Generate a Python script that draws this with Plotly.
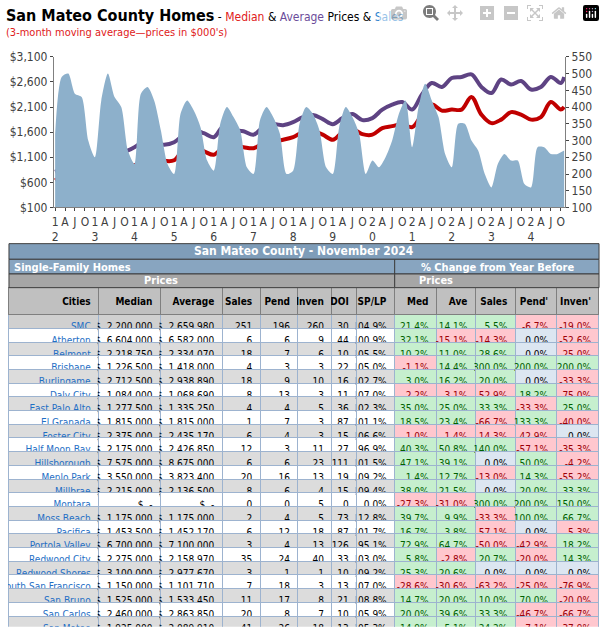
import plotly.graph_objects as go

# chart data (quarterly prices in $000s, sales every two months)
years = list(range(2012, 2025))
price_months = ["01", "04", "07", "10"]
avg_price = [810, 900, 1000, 1000, 970, 1200, 1250, 1220, 1300, 1420, 1380, 1350,
             1400, 1550, 1640, 1580, 1500, 1720, 1640, 1620, 1550, 1700, 1760, 1740,
             1800, 1900, 1940, 1860, 1760, 1880, 1960, 1840, 1880, 2050, 2150, 2200,
             2050, 2350, 2580, 2500, 2680, 2700, 2750, 2500, 2380, 2650, 2550, 2620,
             2450, 2500, 2700, 2580, 2700]
med_price = [640, 750, 820, 810, 760, 920, 980, 950, 940, 1050, 1100, 1030,
             1040, 1260, 1280, 1220, 1150, 1300, 1330, 1300, 1280, 1380, 1420, 1450,
             1500, 1600, 1620, 1550, 1450, 1600, 1660, 1560, 1550, 1680, 1720, 1760,
             1700, 1950, 2150, 2030, 2050, 2050, 2300, 1950, 1780, 1850, 2000, 1950,
             1850, 1900, 2200, 2050, 2100]
sales_months = ["01", "03", "05", "07", "09", "11"]
sales = [320, 490, 500, 440, 430, 300, 250, 420, 500, 430, 400, 270,
         230, 440, 460, 420, 330, 230, 200, 380, 420, 390, 340, 240,
         210, 350, 400, 370, 330, 220, 200, 360, 400, 370, 320, 200,
         210, 350, 400, 380, 330, 220, 200, 340, 400, 370, 320, 200,
         240, 220, 250, 300, 380, 420, 280, 400, 470, 420, 370, 260,
         220, 350, 350, 300, 270, 200, 160, 230, 260, 240, 240, 170,
         160, 280, 280, 260, 260, 270]

price_dates = [f"{y}-{m}-01" for y in years for m in price_months] + ["2024-11-01"]
sales_dates = [f"{y}-{m}-01" for y in years for m in sales_months][:len(sales)]

tick_vals = [f"{y}-{m}-01" for y in years for m in price_months]
tick_text = []
for y in years:
    yy = str(y)[2:]
    tick_text += [f"{yy[0]}<br>{yy[1]}", "A", "J", "O"]

left_ticks = list(range(100, 3101, 500))
left_text = ["$" + f"{v:,}" for v in left_ticks]

# table data
cities = ["SMC", "Atherton", "Belmont", "Brisbane", "Burlingame", "Daly City", "East Palo Alto",
          "El Granada", "Foster City", "Half Moon Bay", "Hillsborough", "Menlo Park", "Millbrae",
          "Montara", "Moss Beach", "Pacifica", "Portola Valley", "Redwood City", "Redwood Shores",
          "outh San Francisco", "San Bruno", "San Carlos", "San Mateo", "Woodside"]
median = ["2,200,000", "6,604,000", "2,218,750", "1,226,500", "2,712,500", "1,084,000", "1,277,500",
          "1,815,000", "2,375,000", "2,175,000", "7,575,000", "3,550,000", "2,215,000", "-",
          "1,175,000", "1,453,500", "6,700,000", "2,275,000", "3,100,000", "1,150,000", "1,525,000",
          "2,460,000", "1,925,000", "7,800,000"]
average = ["2,659,980", "6,582,000", "2,334,070", "1,418,000", "2,938,890", "1,068,690", "1,335,250",
           "1,815,000", "2,435,170", "2,426,850", "8,675,000", "3,823,400", "2,136,500", "-",
           "1,175,000", "1,452,170", "7,100,000", "2,158,970", "2,977,670", "1,101,710", "1,533,450",
           "2,863,850", "2,089,910", "8,566,670"]
n_sales = [251, 6, 18, 4, 18, 8, 4, 1, 6, 12, 6, 20, 8, 0, 2, 6, 3, 35, 3, 7, 11, 20, 41, 3]
pend = [196, 6, 7, 3, 9, 13, 4, 7, 4, 3, 6, 16, 6, 0, 4, 12, 4, 24, 1, 18, 17, 8, 26, 7]
inven = [260, 9, 6, 3, 10, 3, 5, 3, 3, 11, 23, 13, 4, 5, 5, 18, 13, 40, 1, 3, 8, 7, 18, 23]
doi = [30, 44, 10, 22, 16, 11, 36, 87, 15, 27, 111, 19, 15, 0, 73, 87, 126, 33, 10, 13, 21, 10, 13, 222]
sp_lp = ["104.9%", "100.9%", "105.5%", "105.0%", "102.7%", "107.0%", "102.3%", "101.1%", "106.6%",
         "96.9%", "101.5%", "109.2%", "109.4%", "0.0%", "112.8%", "101.7%", "95.1%", "103.0%",
         "109.2%", "107.0%", "108.8%", "105.9%", "105.3%", "96.2%"]
chg_med = ["21.4%", "32.1%", "10.2%", "-1.1%", "3.0%", "-2.2%", "35.0%", "18.5%", "-1.0%", "40.3%",
           "47.1%", "1.4%", "38.0%", "-27.3%", "39.7%", "16.7%", "72.9%", "5.8%", "25.3%", "-28.6%",
           "14.7%", "20.0%", "14.9%", "235.5%"]
chg_ave = ["14.1%", "-15.1%", "11.0%", "14.4%", "16.2%", "-3.1%", "25.0%", "23.4%", "-1.4%", "50.8%",
           "39.1%", "12.7%", "21.5%", "-31.0%", "9.9%", "3.8%", "64.7%", "-2.8%", "20.6%", "-30.6%",
           "20.0%", "39.6%", "5.1%", "268.5%"]
chg_sales = ["5.5%", "-14.3%", "28.6%", "300.0%", "20.0%", "-52.9%", "33.3%", "-66.7%", "-14.3%",
             "140.0%", "0.0%", "-13.0%", "0.0%", "300.0%", "-33.3%", "-57.1%", "-50.0%", "20.7%",
             "0.0%", "-63.2%", "10.0%", "33.3%", "24.2%", "200.0%"]
chg_pend = ["-6.7%", "0.0%", "0.0%", "200.0%", "0.0%", "18.2%", "-33.3%", "133.3%", "-42.9%", "-57.1%",
            "50.0%", "14.3%", "20.0%", "200.0%", "100.0%", "0.0%", "-42.9%", "-20.0%", "0.0%",
            "-25.0%", "70.0%", "-46.7%", "-7.1%", "-12.5%"]
chg_inven = ["-19.0%", "-52.6%", "-25.0%", "200.0%", "-33.3%", "-75.0%", "25.0%", "-40.0%", "0.0%",
             "-35.3%", "-4.2%", "-55.2%", "33.3%", "150.0%", "66.7%", "-5.3%", "18.2%", "14.3%",
             "0.0%", "-76.9%", "-20.0%", "-66.7%", "-37.9%", "-28.1%"]

W, H = 605, 634
FONT = "Liberation Sans Narrow, DejaVu Sans Condensed, Arial"
fig = go.Figure()

fig.add_trace(go.Scatter(x=sales_dates, y=sales, yaxis="y2", fill="tozeroy", mode="none",
                         fillcolor="#8DB0CB", line_shape="spline", line_smoothing=0.7, name="Sales"))
fig.add_trace(go.Scatter(x=price_dates, y=avg_price, mode="lines", line=dict(color="#5E4383", width=4),
                         line_shape="spline", name="Average"))
fig.add_trace(go.Scatter(x=price_dates, y=med_price, mode="lines", line=dict(color="#C00000", width=4),
                         line_shape="spline", name="Median"))

# table
def chg_fill(v):
    if v.startswith("-"):
        return "#FFC7CE"
    if v == "0.0%":
        return "#DCE6F1"
    return "#C6EFCE"

def chg_font(v):
    if v.startswith("-"):
        return "#9C0006"
    if v == "0.0%":
        return "#000000"
    return "#006100"

NB = "\u00a0"
n = len(cities)
row_fill = ["#D0D0D0" if i == 0 else ("#DCDCDC" if i % 2 == 0 else "#FFFFFF") for i in range(n)]
left_cols = [[c.replace(" ", NB) for c in cities],
             ["$" + NB * 2 + v for v in median], ["$" + NB * 2 + v for v in average],
             n_sales, pend, inven, doi, sp_lp]
right_cols = [chg_med, chg_ave, chg_sales, chg_pend, chg_inven]
edges = [7, 97, 159, 221, 259, 297, 331, 356, 394, 436, 475, 515, 556, 599]
widths = [edges[i + 1] - edges[i] for i in range(len(edges) - 1)]

fills = [row_fill] * len(left_cols) + [[chg_fill(v) for v in c] for c in right_cols]
fcolors = [["#1F6FC5"] * n] + [["#000000"] * n] * (len(left_cols) - 1) + \
          [[chg_font(v) for v in c] for c in right_cols]

fig.add_trace(go.Table(
    domain=dict(x=[7 / W, 599 / W], y=[0, 1 - 287 / H]),
    columnwidth=widths,
    header=dict(values=["<b>Cities</b>", "<b>Median</b>", "<b>Average</b>", "<b>Sales</b>", "<b>Pend</b>",
                        "<b>Inven</b>", "<b>DOI</b>", "<b>SP/LP</b>", "<b>Med</b>", "<b>Ave</b>",
                        "<b>Sales</b>", "<b>Pend'</b>", "<b>Inven'</b>"],
                fill_color="#C0C0C0", align="right", height=14,
                font=dict(family=FONT, size=10, color="black"),
                line=dict(color="#7F7F7F", width=1)),
    cells=dict(values=left_cols + right_cols, fill_color=fills, align="right", height=13.7,
               font=dict(family=FONT, size=10, color=fcolors),
               line=dict(color="#9DB3CF", width=1)),
))

# table header bands
def band(y0, y1, x0, x1, color):
    fig.add_shape(type="rect", xref="paper", yref="paper", x0=x0 / W, x1=x1 / W,
                  y0=1 - y1 / H, y1=1 - y0 / H, fillcolor=color, line=dict(color="#3F3F3F", width=1))

def label(text, x, y, anchor, size=12):
    fig.add_annotation(text=f"<b>{text}</b>", x=x / W, y=1 - y / H, xref="paper", yref="paper",
                       xanchor=anchor, yanchor="middle", showarrow=False,
                       font=dict(family=FONT, size=size, color="white"))

band(242, 258, 7, 599, "#7F9DB9")
band(258, 273, 7, 394, "#88A5C0")
band(258, 273, 394, 599, "#88A5C0")
band(273, 287, 7, 394, "#A6A6A6")
band(273, 287, 394, 599, "#A6A6A6")
label("San Mateo County - November 2024", 303, 250, "center", 12)
label("Single-Family Homes", 10, 266, "left", 11)
label("% Change from Year Before", 497, 266, "center", 11)
label("Prices", 160, 280, "center", 11)
label("Prices", 435, 280, "center", 11)

# chart titles
fig.add_annotation(
    text="<b>San Mateo County Homes</b><span style='font-size:12px'> - <span style='color:#E02020'>Median</span>"
         " & <span style='color:#6B4C9A'>Average</span> Prices & <span style='color:#2F86D0'>Sales</span></span>",
    x=2 / W, y=1 - 9 / H, xref="paper", yref="paper", xanchor="left", yanchor="middle", showarrow=False,
    font=dict(family=FONT, size=16, color="black"))
fig.add_annotation(text="(3-month moving average—prices in $000's)", x=2 / W, y=1 - 26 / H,
                   xref="paper", yref="paper", xanchor="left", yanchor="middle", showarrow=False,
                   font=dict(family=FONT, size=11, color="#E02020"))

axis_font = dict(family=FONT, size=12, color="#404040")
fig.update_layout(
    width=W, height=H, margin=dict(l=0, r=0, t=0, b=0),
    paper_bgcolor="white", plot_bgcolor="white", showlegend=False,
    xaxis=dict(domain=[52 / W, 565 / W], range=["2011-12-20", "2024-11-10"], tickvals=tick_vals,
               ticktext=tick_text, tickangle=0, tickfont=axis_font, showgrid=False,
               showline=True, linecolor="#808080", ticks="outside", ticklen=3),
    yaxis=dict(domain=[1 - 205 / H, 1 - 51 / H], range=[100, 3100], tickvals=left_ticks,
               ticktext=left_text, tickfont=axis_font, showgrid=False,
               showline=True, linecolor="#808080", ticks="outside", ticklen=3),
    yaxis2=dict(overlaying="y", side="right", range=[100, 550], tickvals=list(range(100, 551, 50)),
                tickfont=axis_font, showgrid=False, showline=True, linecolor="#808080",
                ticks="outside", ticklen=3),
)

fig.write_html("out.html", post_script="document.body.style.margin='0';")
